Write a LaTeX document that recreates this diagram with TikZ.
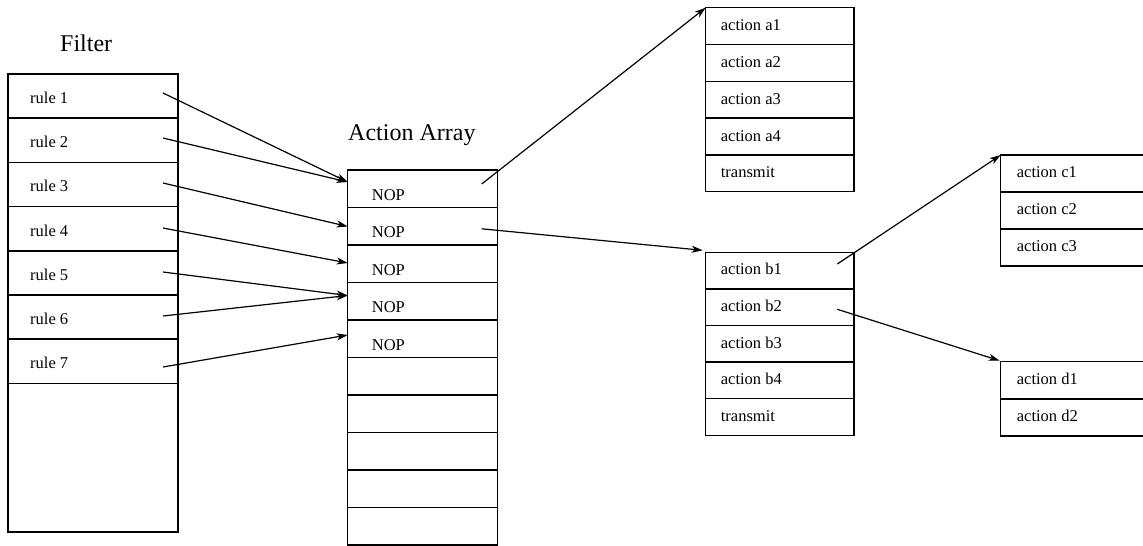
\documentclass[tikz,border=0pt]{standalone}
\usepackage{fontspec}
\setmainfont{Liberation Serif}
\usetikzlibrary{arrows.meta,calc}
\tikzset{
  cellbox/.style 2 args={draw, line width=1.5pt, inner sep=0pt, outer sep=0pt,
    anchor=north west, minimum width=#1, minimum height=#2},
  celltext/.style={anchor=base west, inner sep=0pt, font=\fontsize{16.5}{19}\selectfont},
  heading/.style={anchor=base west, inner sep=0pt, font=\fontsize{24}{28}\selectfont},
  link/.style={line width=1.2pt, -{Stealth[length=11pt,width=7pt,inset=3pt]}},
}
\begin{document}
\begin{tikzpicture}[x=1pt,y=-1pt]
\clip (0,0) rectangle (1143,546);

% ---- Filter table ----
\node[heading] (filterlbl) at (60,51.7) {Filter};
\foreach \i in {1,...,7}{
  \node[cellbox={170pt}{44.2pt}] (r\i) at (8,{74+44.2*(\i-1)}) {};
  \node[celltext] (rt\i) at ($(r\i.north west)+(22,29.5)$) {rule \i};
}
\node[cellbox={170pt}{148.6pt}] (rtail) at (8,383.4) {};

% ---- Action array ----
\node[heading] (arraylbl) at (348,140) {Action Array};
\foreach \i in {1,...,10}{
  \node[cellbox={149.6pt}{37.5pt}] (n\i) at (347.7,{170+37.5*(\i-1)}) {};
}
\foreach \i in {1,...,5}{
  \node[celltext] (nt\i) at ($(n\i.north west)+(24,30)$) {NOP};
}

% ---- Action list a ----
\foreach \t [count=\i] in {action a1,action a2,action a3,action a4,transmit}{
  \node[cellbox={148.3pt}{36.8pt}] (a\i) at (705.7,{7.7+36.8*(\i-1)}) {};
  \node[celltext] (at\i) at ($(a\i.north west)+(15,23)$) {\t};
}

% ---- Action list b ----
\foreach \t [count=\i] in {action b1,action b2,action b3,action b4,transmit}{
  \node[cellbox={148.3pt}{36.6pt}] (b\i) at (705.7,{252.3+36.6*(\i-1)}) {};
  \node[celltext] (bt\i) at ($(b\i.north west)+(15,22.5)$) {\t};
}

% ---- Action list c ----
\foreach \t [count=\i] in {action c1,action c2,action c3}{
  \node[cellbox={170pt}{37pt}] (c\i) at (1000.7,{155+37*(\i-1)}) {};
  \node[celltext] (ct\i) at ($(c\i.north west)+(16,22.5)$) {\t};
}

% ---- Action list d ----
\foreach \t [count=\i] in {action d1,action d2}{
  \node[cellbox={170pt}{37.2pt}] (d\i) at (1000.7,{361.7+37.2*(\i-1)}) {};
  \node[celltext] (dt\i) at ($(d\i.north west)+(16,23)$) {\t};
}

% ---- connector end points ----
\coordinate (s1) at ($(r1.north west)+(155,19)$);
\coordinate (s2) at ($(r2.north west)+(155,19.8)$);
\coordinate (s3) at ($(r3.north west)+(155,20.6)$);
\coordinate (s4) at ($(r4.north west)+(155,21.4)$);
\coordinate (s5) at ($(r5.north west)+(155,21.2)$);
\coordinate (s6) at ($(r6.north west)+(155,21)$);
\coordinate (s7) at ($(r7.north west)+(155,27.8)$);

\coordinate (e1) at ($(n1.north west)+(0,12)$);
\coordinate (e2) at ($(n2.north west)+(0,19)$);
\coordinate (e3) at ($(n3.north west)+(0,18)$);
\coordinate (e4) at ($(n4.north west)+(0,13)$);
\coordinate (e5) at ($(n5.north west)+(0,15)$);

\coordinate (o1) at ($(n1.north west)+(134,14)$);
\coordinate (o2) at ($(n2.north west)+(134,21.3)$);
\coordinate (ob1) at ($(b1.north west)+(131.6,11.7)$);
\coordinate (ob2) at ($(b2.north west)+(131.6,20.4)$);

% ---- connectors ----
\draw[link] (s1) -- (e1);
\draw[link] (s2) -- (e1);
\draw[link] (s3) -- (e2);
\draw[link] (s4) -- (e3);
\draw[link] (s5) -- (e4);
\draw[link] (s6) -- (e4);
\draw[link] (s7) -- (e5);
\draw[link] (o1) -- (a1.north west);
\draw[link] (o2) -- ($(b1.north west)+(-3,-2)$);
\draw[link] (ob1) -- (c1.north west);
\draw[link] (ob2) -- ($(d1.north west)+(-1,-1)$);
\end{tikzpicture}
\end{document}
